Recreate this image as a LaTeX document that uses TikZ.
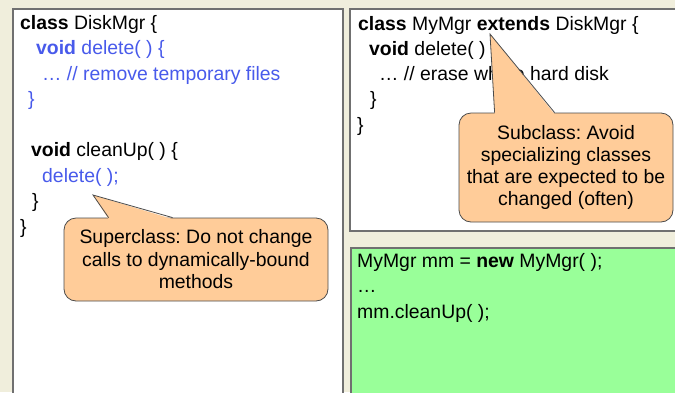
\documentclass[tikz,border=0pt]{standalone}
\usepackage{fontspec}
\setmainfont{Liberation Sans}
\frenchspacing
\definecolor{slidebg}{RGB}{240, 238, 220}
\definecolor{codeblue}{RGB}{72, 90, 235}
\definecolor{mintgreen}{RGB}{153, 255, 153}
\definecolor{peach}{RGB}{255, 204, 153}
\definecolor{framegray}{RGB}{112, 112, 112}
\tikzset{
  codeline/.style={anchor=base west, inner sep=0pt, font=\fontsize{19.4}{25.5}\selectfont},
  codebox/.style={draw=framegray, line width=1.5pt, anchor=north west, inner sep=0pt},
  balloon/.style={draw=black!70, fill=peach, rounded corners=12pt, line width=0.8pt,
                  align=center, inner sep=0pt},
  balloonedge/.style={draw=black!70, line width=0.8pt, line join=miter}
}
\begin{document}
\begin{tikzpicture}[x=1pt, y=-1pt]
            \useasboundingbox (0,0) rectangle (675,392);
            \clip (0,0) rectangle (675,392);
            \fill[slidebg] (0,0) rectangle (675,392);
            \node[codebox, fill=white,     minimum width=330pt, minimum height=400pt] (superbox) at ( 12,  8) {};
            \node[codebox, fill=white,     minimum width=340pt, minimum height=222pt] (subbox)   at (349,  8) {};
            \node[codebox, fill=mintgreen, minimum width=340pt, minimum height=160pt] (mainbox)  at (350,247) {};
            % superclass code
            \node[codeline]                 (s1) at ( 20, 29.0) {\textbf{class} DiskMgr \{};
            \node[codeline, text=codeblue]  (s2) at ( 36, 54.5) {\textbf{void} delete( ) \{};
            \node[codeline, text=codeblue]  (s3) at ( 42, 80.0) {… // remove temporary files};
            \node[codeline, text=codeblue]  (s4) at ( 28,105.5) {\}};
            \node[codeline]                 (s5) at ( 31,156.5) {\textbf{void} cleanUp( ) \{};
            \node[codeline, text=codeblue]  (s6) at ( 42,182.0) {delete( );};
            \node[codeline]                 (s7) at ( 32,207.5) {\}};
            \node[codeline]                 (s8) at ( 20,233.0) {\}};
            % subclass code
            \node[codeline]                 (b1) at (358, 30.0) {\textbf{class} MyMgr \textbf{extends} DiskMgr \{};
            \node[codeline]                 (b2) at (369, 55.0) {\textbf{void} delete( )};
            \node[codeline]                 (b3) at (379, 80.0) {… // erase whole hard disk};
            \node[codeline]                 (b4) at (370,105.5) {\}};
            \node[codeline]                 (b5) at (357,131.0) {\}};
            % client code
            \node[codeline]                 (m1) at (357,267.0) {MyMgr mm = \textbf{new} MyMgr( );};
            \node[codeline]                 (m2) at (357,292.5) {…};
            \node[codeline]                 (m3) at (357,318.0) {mm.cleanUp( );};
            % balloons
            \node[balloon, minimum width=264pt, minimum height=83pt, font=\fontsize{19.4}{22.5}\selectfont]
                 (superballoon) at (196,259.5) {Superclass: Do not change\\calls to dynamically-bound\\methods};
            \coordinate (supertip) at ( 93, 195);
            \fill[peach]       ([xshift= 45pt, yshift=-1.5pt]superballoon.north west) -- (supertip)
                            -- ([xshift=109pt, yshift=-1.5pt]superballoon.north west) -- cycle;
            \draw[balloonedge] ([xshift= 45pt]superballoon.north west) -- (supertip)
                            -- ([xshift=109pt]superballoon.north west);
            \node[balloon, minimum width=214pt, minimum height=109pt, font=\fontsize{19.4}{21.7}\selectfont]
                 (subballoon) at (566,167.5) {Subclass: Avoid\\specializing classes\\that are expected to be\\changed (often)};
            \coordinate (subtip) at (490, 34);
            \fill[peach]       ([xshift= 36pt, yshift=-1.5pt]subballoon.north west) -- (subtip)
                            -- ([xshift= 96pt, yshift=-1.5pt]subballoon.north west) -- cycle;
            \draw[balloonedge] ([xshift= 36pt]subballoon.north west) -- (subtip)
                            -- ([xshift= 96pt]subballoon.north west);
\end{tikzpicture}
\end{document}
